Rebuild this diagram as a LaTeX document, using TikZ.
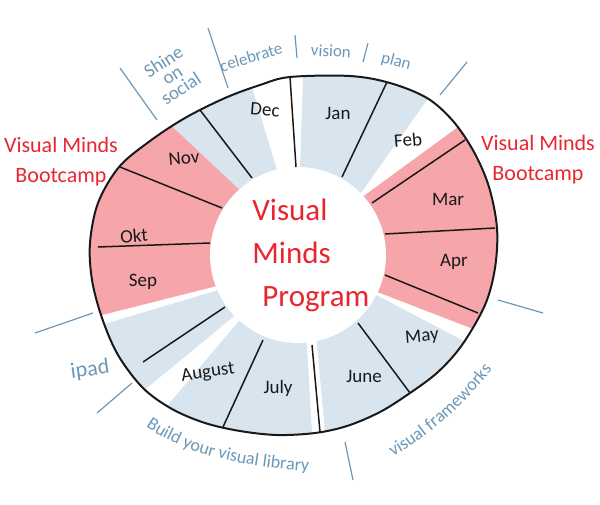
\documentclass[tikz,border=0pt]{standalone}
\usepackage{fontspec}
\setmainfont{Carlito}
\usetikzlibrary{calc,decorations.text}
\definecolor{ink}{RGB}{25,25,25}
\definecolor{skyfill}{RGB}{216,229,238}
\definecolor{rosefill}{RGB}{246,166,170}
\definecolor{campred}{RGB}{232,38,48}
\definecolor{notecol}{RGB}{108,152,184}
\tikzset{
  mon/.style={font=\fontsize{9.5}{11}\selectfont,text=ink,inner sep=0pt},
  note/.style={font=\fontsize{8.5}{7.5}\selectfont,text=notecol,inner sep=0pt,align=center},
  camp/.style={font=\fontsize{11}{15}\selectfont,text=campred,align=center,inner sep=0pt},
  divider/.style={draw=ink,line width=0.75pt},
  tickmark/.style={draw=notecol,line width=0.6pt},
}
\newcommand{\notefont}{\fontsize{9}{10}\selectfont}
% one ring sector between two rough edges, each given as inner pt, outer pt
\newcommand{\sectorfill}[5]{%
  \fill[#1] ($(#2)!3!(#3)$) -- ($(#3)!1.3!(#2)$) -- ($(#5)!1.3!(#4)$) -- ($(#4)!3!(#5)$) -- cycle;}
\newcommand{\rimline}{plot[smooth cycle,tension=0.55] coordinates {
  (290,77) (350,76) (390,83) (427,98) (453,121) (474,152) (489,187) (497,228)
  (495,268) (485,305) (462,345) (438,372) (410,393) (380,412) (347,426) (315,433)
  (277,435) (240,431) (205,423) (172,409) (143,388) (118,355) (102,318) (92,280)
  (90,243) (98,203) (119,167) (150,141) (185,118) (225,98) (260,85)}}

\begin{document}
\begin{tikzpicture}[x=0.5pt,y=-0.5pt]
\useasboundingbox (0,0) rectangle (600,504);
% coloured sectors, cut by the rim
\begin{scope}
  \clip \rimline;
  \sectorfill{rosefill}{238,188}{173,127}{213,287}{110,313}
  \sectorfill{skyfill}{238,188}{173,127}{277,170}{252,87}
  \sectorfill{skyfill}{300,167}{303,77}{363,190}{427,100}
  \sectorfill{rosefill}{365,195}{458,127}{380,293}{468,327}
  \sectorfill{skyfill}{380,297}{462,340}{317,345}{325,432}
  \sectorfill{skyfill}{307,345}{312,432}{238,322}{172,400}
  \sectorfill{skyfill}{233,317}{153,383}{218,290}{108,323}
\end{scope}
% hub
\fill[white] (298,255) circle[radius=44pt];
% month dividers
\foreach \xa/\ya/\xb/\yb in {296/167/290/77, 342/177/387/82, 252/178/200/110,
  372/203/465/140, 385/234/495/228, 385/275/478/313, 358/323/410/393,
  312/345/320/432, 263/340/223/427, 225/307/143/362, 210/243/98/247,
  222/208/120/167}
  {\draw[divider] (\xa,\ya) -- (\xb,\yb);}
\draw[line width=1pt,draw=ink] \rimline;
% months
\foreach \nm/\px/\py/\rot/\txt in {jan/338/113/0/Jan, feb/408/140/5/Feb,
  mar/448/199/0/Mar, apr/454/262/0/Apr, may/422/337/5/May, jun/364/376/0/June,
  jul/278/388/0/July, aug/208/373/8/August, sep/143/282/0/Sep, okt/134/236/5/Okt,
  nov/184/158/5/Nov, dec/265/110/-5/Dec}
  {\node[mon,rotate=\rot] (\nm) at (\px,\py) {\txt};}
\node[font=\fontsize{15.5}{21.5}\selectfont,text=campred,align=left,inner sep=0pt,anchor=west]
  (prog) at (252,255) {Visual\\Minds\\\hspace*{5pt}Program};
\node[camp] (campL) at (61,162) {Visual Minds\\Bootcamp};
\node[camp] (campR) at (538,160) {Visual Minds\\Bootcamp};
% notes round the rim
\node[note,rotate=33,font=\fontsize{9.5}{8}\selectfont] (shine) at (172,75) {Shine\\on\\social};
\node[note,rotate=17] (celeb) at (251,57) {celebrate};
\node[note,rotate=-3] (vision) at (331,51) {vision};
\node[note,rotate=-15] (plan) at (396,62) {plan};
\node[note,rotate=8,font=\fontsize{11}{12}\selectfont] (ipad) at (90,370) {ipad};
\path[decorate,decoration={text along path,text color=notecol,text align=center,
  text={|\notefont|Build your visual library}}]
  (133,417) .. controls (175,452) and (235,468) .. (325,472);
\path[decorate,decoration={text along path,text color=notecol,text align=center,
  text={|\notefont|visual frameworks}}]
  (366,470) .. controls (415,450) and (470,405) .. (510,345);
\foreach \xa/\ya/\xb/\yb in {120/68/157/120, 208/28/228/88, 295/35/297/58,
  368/43/363/62, 467/62/440/95, 498/300/543/313, 345/442/353/480,
  132/383/97/413, 93/313/35/333}
  {\draw[tickmark] (\xa,\ya) -- (\xb,\yb);}
\end{tikzpicture}
\end{document}
